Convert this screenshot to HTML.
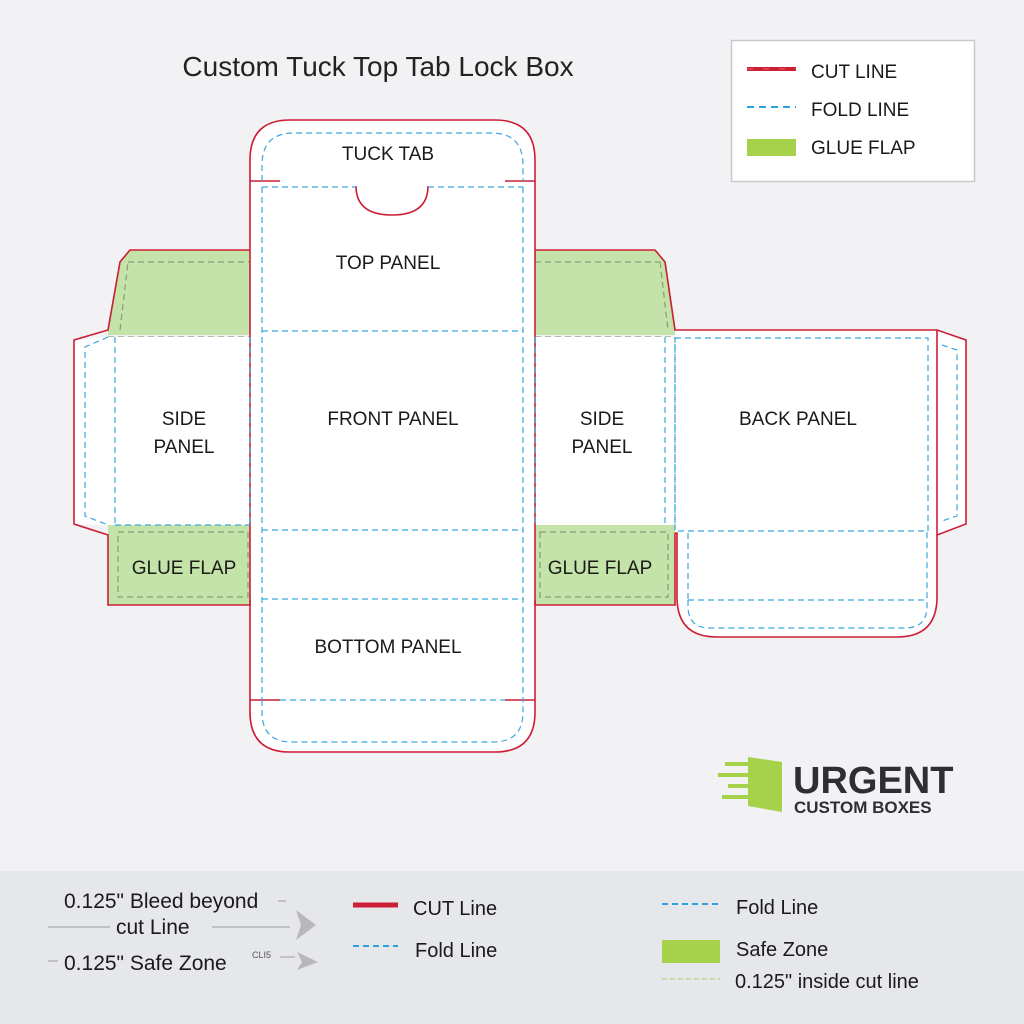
<!DOCTYPE html>
<html><head><meta charset="utf-8"><style>
html,body{margin:0;padding:0;background:#f2f2f4;}
svg{display:block;}
text{font-family:"Liberation Sans",sans-serif;fill:#1a1a1a;}
</style></head><body>
<svg width="1024" height="1024" viewBox="0 0 1024 1024" xmlns="http://www.w3.org/2000/svg">
<rect width="1024" height="1024" fill="#f2f2f4"/>
<text x="378" y="76" font-size="28" text-anchor="middle" style="fill:#222">Custom Tuck Top Tab Lock Box</text>

<!-- legend box -->
<rect x="731.5" y="40.5" width="243" height="141" fill="#fff" stroke="#c8c8cc" stroke-width="1.5"/>
<line x1="747" y1="69" x2="796" y2="69" stroke="#cc1f36" stroke-width="4"/>
<line x1="747" y1="69" x2="796" y2="69" stroke="#e8607a" stroke-width="1" stroke-dasharray="6 10"/>
<text x="811" y="78" font-size="19">CUT LINE</text>
<line x1="747" y1="107" x2="796" y2="107" stroke="#2e9fe0" stroke-width="2" stroke-dasharray="7 5"/>
<text x="811" y="116" font-size="19">FOLD LINE</text>
<rect x="747" y="139" width="49" height="17" fill="#a6d14a"/>
<text x="811" y="154" font-size="19">GLUE FLAP</text>

<!-- green glue flaps -->
<g fill="#c4e3a8">
<polygon points="130,250 250,250 250,335 108,335 108,330 120,262"/>
<polygon points="535,250 655,250 665,262 675,330 675,335 535,335"/>
<rect x="108" y="525" width="142" height="80"/>
<rect x="535" y="525" width="140" height="80"/>
</g>
<g fill="none" stroke="#8a9a7a" stroke-width="1.2" stroke-dasharray="6 4">
<polyline points="128,262 250,262"/><polyline points="120,330 128,262"/>
<line x1="535" y1="262" x2="660" y2="262"/><line x1="660" y1="262" x2="668" y2="330"/>
<line x1="108" y1="337" x2="250" y2="337"/><line x1="535" y1="337" x2="675" y2="337"/>
<rect x="118" y="532" width="130" height="65"/>
<rect x="540" y="532" width="128" height="65"/>
</g>
<g stroke="#2b5a1a" stroke-width="1.2" fill="none">
<line x1="120" y1="262" x2="108" y2="330"/><line x1="665" y1="262" x2="675" y2="330"/>
</g>

<!-- white panels -->
<g fill="#fff">
<path d="M250,160 Q250,120 290,120 L495,120 Q535,120 535,160 L535,712 Q535,752 495,752 L290,752 Q250,752 250,712 Z"/>
<polygon points="108,337 250,337 250,525 108,525 74,524 74,340"/>
<rect x="535" y="337" width="140" height="188"/>
<rect x="675" y="330" width="262" height="205"/>
<polygon points="937,330 966,340 966,524 937,535"/>
<path d="M677,533 L937,533 L937,597 Q937,637 897,637 L717,637 Q677,637 677,597 Z"/>
</g>

<!-- cut lines -->
<g fill="none" stroke="#cc1f36" stroke-width="1.6">
<path d="M250,330 L250,160 Q250,120 290,120 L495,120 Q535,120 535,160 L535,330"/>
<line x1="250" y1="181" x2="280" y2="181"/><line x1="505" y1="181" x2="535" y2="181"/>
<path d="M356,186 Q356,215 392,215 Q428,215 428,186"/>
<path d="M250,250 L130,250 L120,262 L108,330 L74,340 L74,524 L108,535 L108,605 L250,605 L250,535"/>
<path d="M535,250 L655,250 L665,262 L675,330 L937,330 L966,340 L966,524 L937,535 L937,597 Q937,637 897,637 L717,637 Q677,637 677,597 L677,533 L675,533"/>
<path d="M535,535 L535,605 L675,605 L675,533"/>
<line x1="937" y1="330" x2="937" y2="535"/>
<path d="M250,600 L250,712 Q250,752 290,752 L495,752 Q535,752 535,712 L535,600"/>
<line x1="250" y1="700" x2="280" y2="700"/><line x1="505" y1="700" x2="535" y2="700"/>
<line x1="250" y1="330" x2="250" y2="535"/><line x1="535" y1="330" x2="535" y2="535"/>
</g>

<!-- fold lines -->
<g fill="none" stroke="#3aa6de" stroke-width="1.2" stroke-dasharray="6 4">
<path d="M262,181 L262,165 Q262,133 294,133 L491,133 Q523,133 523,165 L523,181"/>
<line x1="262" y1="187" x2="356" y2="187"/><line x1="428" y1="187" x2="523" y2="187"/>
<line x1="262" y1="187" x2="262" y2="700"/><line x1="523" y1="187" x2="523" y2="700"/>
<line x1="262" y1="331" x2="523" y2="331"/>
<line x1="262" y1="530" x2="523" y2="530"/>
<line x1="262" y1="599" x2="523" y2="599"/>
<line x1="280" y1="700" x2="505" y2="700"/>
<path d="M262,700 L262,712 Q262,742 292,742 L493,742 Q523,742 523,712 L523,700"/>
<line x1="115" y1="337" x2="115" y2="525"/><line x1="250" y1="337" x2="250" y2="525"/>
<polyline points="108,337 85,347 85,516 108,525"/>
<line x1="115" y1="525" x2="250" y2="525"/>
<line x1="535" y1="337" x2="535" y2="525"/><line x1="665" y1="337" x2="665" y2="525"/>
<line x1="675" y1="337" x2="675" y2="530"/>
<rect x="675" y="338" width="253" height="193"/>
<polyline points="942,345 957,350 957,516 942,521"/>
<line x1="688" y1="533" x2="688" y2="600"/>
<line x1="688" y1="600" x2="925" y2="600"/>
<path d="M688,600 L688,606 Q688,628 710,628 L905,628 Q927,628 927,606 L927,531"/>
</g>

<!-- labels -->
<g font-size="19" text-anchor="middle">
<text x="388" y="160">TUCK TAB</text>
<text x="388" y="269">TOP PANEL</text>
<text x="393" y="425">FRONT PANEL</text>
<text x="184" y="425">SIDE</text><text x="184" y="453">PANEL</text>
<text x="602" y="425">SIDE</text><text x="602" y="453">PANEL</text>
<text x="798" y="425">BACK PANEL</text>
<text x="184" y="574">GLUE FLAP</text>
<text x="600" y="574">GLUE FLAP</text>
<text x="388" y="653">BOTTOM PANEL</text>
</g>

<!-- logo -->
<g fill="#a6d14a">
<polygon points="748,757 782,762 782,812 748,806"/>
<rect x="725" y="762" width="35" height="4"/><rect x="718" y="773" width="40" height="4"/>
<rect x="728" y="784" width="30" height="4"/><rect x="722" y="795" width="36" height="4"/>
</g>
<text x="793" y="793" font-size="38" font-weight="bold" style="fill:#2f2f33">URGENT</text>
<text x="794" y="813" font-size="17" font-weight="bold" style="fill:#2f2f33">CUSTOM BOXES</text>

<!-- bottom band -->
<rect x="0" y="871" width="1024" height="153" fill="#e6e7ea"/>
<g font-size="20" style="fill:#222">
<text x="64" y="908" font-size="21">0.125" Bleed beyond</text>
<text x="116" y="934" font-size="21">cut Line</text>
<text x="64" y="970" font-size="21">0.125" Safe Zone</text>
<text x="413" y="915">CUT Line</text>
<text x="415" y="957">Fold Line</text>
<text x="736" y="914">Fold Line</text>
<text x="736" y="956">Safe Zone</text>
<text x="735" y="988">0.125" inside cut line</text>
</g>
<text x="252" y="958" font-size="9" style="fill:#555">CLI5</text>
<g stroke="#aaa" stroke-width="1.2">
<line x1="278" y1="901" x2="286" y2="901"/>
<line x1="48" y1="927" x2="110" y2="927"/><line x1="212" y1="927" x2="290" y2="927"/>
<line x1="48" y1="961" x2="58" y2="961"/><line x1="280" y1="957" x2="295" y2="957"/>
</g>
<polygon points="296,910 316,925 296,940 301,925" fill="#b8b8bc"/>
<polygon points="297,952 318,962 297,970 302,962" fill="#b8b8bc"/>
<line x1="353" y1="905" x2="398" y2="905" stroke="#cc1f36" stroke-width="5"/>
<line x1="353" y1="946" x2="398" y2="946" stroke="#2e9fe0" stroke-width="2" stroke-dasharray="6 4"/>
<line x1="662" y1="904" x2="720" y2="904" stroke="#2e9fe0" stroke-width="2" stroke-dasharray="6 4"/>
<rect x="662" y="940" width="58" height="23" fill="#a6d14a"/>
<line x1="662" y1="979" x2="720" y2="979" stroke="#bccf7a" stroke-width="1.2" stroke-dasharray="5 3"/>
</svg>
</body></html>
